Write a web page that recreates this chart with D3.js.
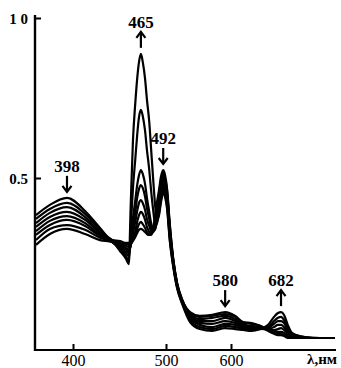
<!DOCTYPE html>
<html><head><meta charset="utf-8">
<script src="https://cdn.jsdelivr.net/npm/d3@7"></script>
<style>
html,body{margin:0;padding:0;background:#fff;}
svg{display:block;}
text{font-family:"Liberation Serif","DejaVu Serif",serif;fill:#000;}
</style></head>
<body>
<div id="chart"></div>
<script>
// wavelength grid (nm), read along the instrument's (non-uniform) wavelength scale
const wavelengths = [360,375,393.5,413,429,442,450.5,457,460,462,464.5,467,469,471,473,475,477.5,479.5,482,484,486,488,490,492.5,494.5,497,499,501.5,506,511,517,525,537,552,571,591,607,620,634,647.5,661,670.5,677,682,687,693,700,721,746,770];

// absorbance of successive spectra (1 = first, 8 = last)
const spectrum1 = [0.384,0.416,0.438,0.397,0.344,0.306,0.303,0.297,0.297,0.300,0.306,0.316,0.328,0.338,0.341,0.338,0.331,0.325,0.322,0.328,0.344,0.375,0.419,0.463,0.503,0.525,0.509,0.469,0.353,0.250,0.172,0.119,0.081,0.069,0.072,0.081,0.069,0.050,0.047,0.038,0.022,0.013,0.009,0.009,0.006,0,0,0,0,0];
const spectrum2 = [0.372,0.403,0.422,0.388,0.338,0.306,0.297,0.294,0.291,0.294,0.303,0.319,0.341,0.356,0.363,0.356,0.344,0.331,0.322,0.322,0.338,0.363,0.403,0.447,0.491,0.516,0.500,0.463,0.347,0.247,0.172,0.119,0.078,0.066,0.069,0.075,0.066,0.047,0.044,0.038,0.025,0.016,0.013,0.013,0.009,0.003,0,0,0,0];
const spectrum3 = [0.359,0.391,0.409,0.378,0.331,0.306,0.294,0.288,0.284,0.291,0.313,0.334,0.363,0.384,0.394,0.388,0.369,0.347,0.331,0.325,0.331,0.353,0.388,0.431,0.475,0.506,0.491,0.453,0.341,0.244,0.169,0.116,0.072,0.059,0.063,0.069,0.059,0.041,0.038,0.034,0.025,0.022,0.019,0.019,0.016,0.006,0,0,0,0];
const spectrum4 = [0.347,0.378,0.394,0.369,0.328,0.303,0.291,0.281,0.275,0.288,0.328,0.363,0.397,0.422,0.431,0.422,0.400,0.372,0.350,0.334,0.331,0.344,0.375,0.419,0.463,0.497,0.481,0.444,0.331,0.241,0.166,0.116,0.069,0.053,0.053,0.063,0.053,0.038,0.034,0.031,0.025,0.025,0.028,0.031,0.025,0.013,0.003,0,0,0];
const spectrum5 = [0.334,0.366,0.381,0.359,0.322,0.303,0.288,0.275,0.266,0.290,0.347,0.394,0.438,0.466,0.478,0.469,0.441,0.406,0.372,0.347,0.334,0.338,0.366,0.406,0.450,0.484,0.469,0.434,0.325,0.238,0.166,0.113,0.066,0.047,0.044,0.053,0.047,0.034,0.031,0.031,0.028,0.034,0.041,0.041,0.034,0.019,0.006,0,0,0];
const spectrum6 = [0.322,0.353,0.369,0.350,0.319,0.303,0.284,0.266,0.256,0.300,0.375,0.431,0.478,0.509,0.525,0.513,0.481,0.438,0.394,0.359,0.341,0.338,0.359,0.397,0.441,0.475,0.459,0.425,0.316,0.231,0.163,0.113,0.059,0.041,0.034,0.044,0.041,0.031,0.028,0.028,0.031,0.044,0.053,0.053,0.047,0.025,0.009,0,0,0];
const spectrum7 = [0.306,0.341,0.353,0.338,0.313,0.300,0.278,0.256,0.241,0.340,0.470,0.560,0.634,0.691,0.713,0.694,0.647,0.588,0.525,0.460,0.405,0.362,0.356,0.391,0.431,0.463,0.450,0.416,0.306,0.228,0.159,0.109,0.056,0.034,0.028,0.038,0.034,0.028,0.025,0.028,0.034,0.053,0.063,0.066,0.056,0.031,0.013,0.003,0,0];
const spectrum8 = [0.291,0.325,0.341,0.325,0.306,0.300,0.272,0.247,0.231,0.410,0.619,0.735,0.810,0.863,0.888,0.863,0.810,0.745,0.675,0.590,0.505,0.425,0.370,0.384,0.422,0.453,0.441,0.406,0.300,0.225,0.156,0.106,0.050,0.028,0.022,0.031,0.028,0.025,0.022,0.028,0.041,0.066,0.078,0.081,0.072,0.041,0.016,0.003,0,0];

const xTickValues = [400, 500, 600];
const xTickLabels = ["400", "500", "600"];
const yTickValues = [0.5, 1.0];
const yTickLabels = ["0.5", "1 0"];
const xAxisTitle = "λ,нм";

// peak annotations: label, wavelength index in grid, direction of change
const peakLabels = ["398", "465", "492", "580", "682"];
const peakIndex  = [2, 14, 25, 35, 43];
const peakDir    = ["down", "up", "down", "down", "up"];

const allSpectra = [spectrum1,spectrum2,spectrum3,spectrum4,spectrum5,spectrum6,spectrum7,spectrum8];

const W = 341, H = 368;
const svg = d3.select("#chart").append("svg").attr("width", W).attr("height", H);

const x = d3.scaleLinear().domain([360,400,500,600,700,770]).range([36,73,166,231,292,335]);
const y = d3.scaleLinear().domain([0,1]).range([338,18]);
const axisY = 350, axisX = 35;

// curves
const line = d3.line().x((d,i)=>x(wavelengths[i])).y(d=>y(d)).curve(d3.curveMonotoneX);
svg.append("g").selectAll("path").data(allSpectra).join("path")
  .attr("d", line).attr("fill","none").attr("stroke","#000")
  .attr("stroke-width",2.2).attr("stroke-linejoin","round");

// x axis
const gx = svg.append("g").attr("transform",`translate(0,${axisY})`)
  .call(d3.axisBottom(x).tickValues(xTickValues).tickFormat((d,i)=>xTickLabels[i]).tickSizeInner(-6).tickSizeOuter(0));
gx.select(".domain").remove();
gx.selectAll(".tick line").attr("stroke","#000").attr("stroke-width",2);
gx.selectAll(".tick text").attr("y",16).attr("dy",0)
  .style("font-size","16px").style("font-family","'Liberation Serif',serif");
svg.append("line").attr("x1",axisX).attr("x2",336).attr("y1",axisY).attr("y2",axisY)
  .attr("stroke","#000").attr("stroke-width",2.2);
svg.append("text").attr("x",337).attr("y",364).attr("text-anchor","end")
  .style("font-size","15px").style("font-weight","bold").text(xAxisTitle);

// y axis
const gy = svg.append("g").attr("transform",`translate(${axisX},0)`)
  .call(d3.axisLeft(y).tickValues(yTickValues).tickFormat((d,i)=>yTickLabels[i]).tickSizeInner(-6).tickSizeOuter(0));
gy.select(".domain").remove();
gy.selectAll(".tick line").attr("stroke","#000").attr("stroke-width",2);
gy.selectAll(".tick text").attr("x",-7).attr("dy","0.35em")
  .style("font-size","15px").style("font-weight","bold").style("font-family","'Liberation Serif',serif");
svg.append("line").attr("x1",axisX).attr("x2",axisX).attr("y1",15).attr("y2",axisY+1)
  .attr("stroke","#000").attr("stroke-width",2.4);

// peak annotations
peakLabels.forEach((lab,k)=>{
  const i = peakIndex[k];
  const px = x(wavelengths[i]);
  const top = d3.min(allSpectra, s=>y(s[i]));
  const y1 = top - 22, y2 = top - 6;
  const g = svg.append("g");
  g.append("line").attr("x1",px).attr("x2",px).attr("y1",y1).attr("y2",y2)
    .attr("stroke","#000").attr("stroke-width",2.2);
  const tipY = peakDir[k]==="down" ? y2 : y1;
  const s = peakDir[k]==="down" ? -1 : 1;
  g.append("path").attr("d",`M${px-4.5},${tipY+s*6} L${px},${tipY} L${px+4.5},${tipY+s*6}`)
    .attr("fill","none").attr("stroke","#000").attr("stroke-width",2.2);
  g.append("text").attr("x",px).attr("y",y1-4).attr("text-anchor","middle")
    .style("font-size","17px").style("font-weight","bold").text(lab);
});
</script>
</body></html>
